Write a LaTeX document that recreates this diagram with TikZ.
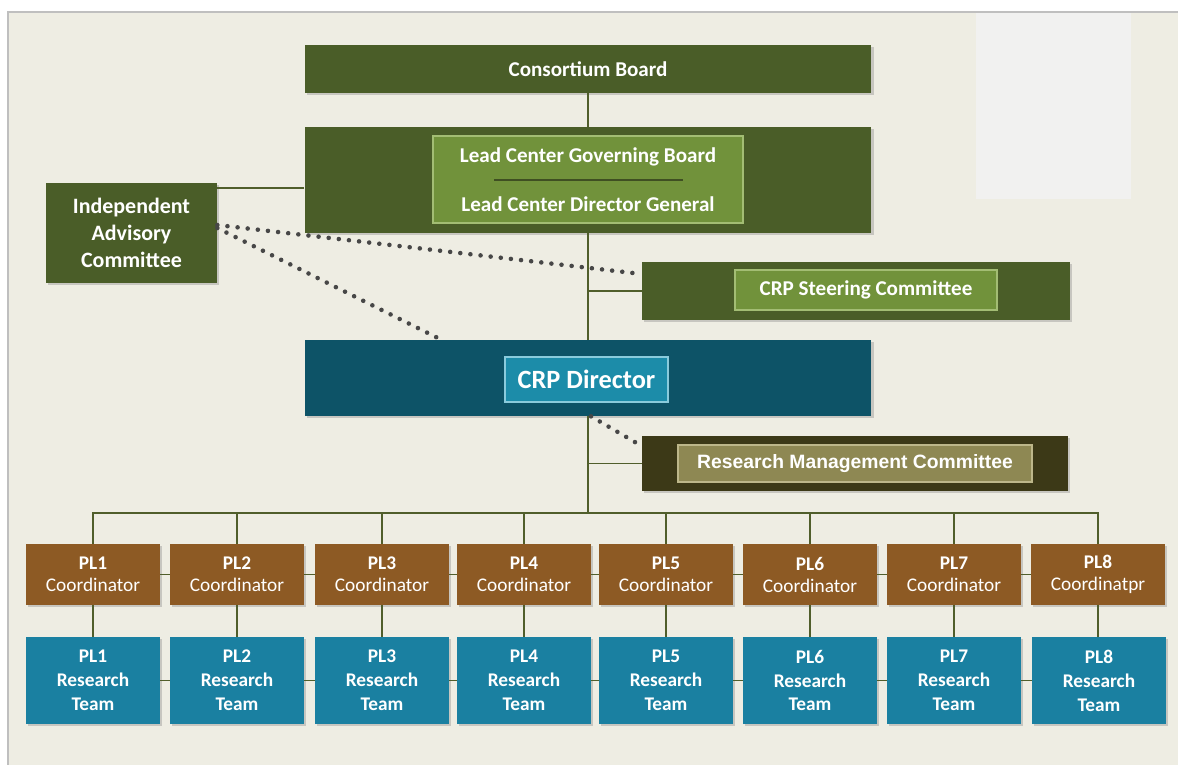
\documentclass[tikz,border=0pt]{standalone}
\usepackage{fontspec}
\setmainfont{Carlito}
\newfontfamily\rmcfont{Liberation Sans}
\usepackage{tikz}
\usetikzlibrary{shadows}

\definecolor{boardgreen}{HTML}{4A5D28}
\definecolor{leafgreen}{HTML}{71923B}
\definecolor{leafedge}{HTML}{A3BD74}
\definecolor{crpteal}{HTML}{0D5367}
\definecolor{crplight}{HTML}{1C8CA9}
\definecolor{crpedge}{HTML}{8ACBDC}
\definecolor{rmcdark}{HTML}{3C3917}
\definecolor{rmclight}{HTML}{8E8853}
\definecolor{rmcedge}{HTML}{BDB78A}
\definecolor{plbrown}{HTML}{8D5A24}
\definecolor{plteal}{HTML}{1A80A1}
\definecolor{linkolive}{HTML}{505E2B}
\definecolor{paper}{HTML}{EEEDE3}
\definecolor{blankpanel}{HTML}{F1F1F0}

\tikzset{
  orgbox/.style={rectangle, inner sep=0pt, align=center, text=white, drop shadow={shadow xshift=1.2pt, shadow yshift=-1.2pt, opacity=0.35}},
  darkbox/.style={orgbox, fill=boardgreen, minimum width=11.34cm},
  leafbox/.style={rectangle, inner sep=0pt, align=center, text=white, fill=leafgreen, draw=leafedge, line width=0.8pt, font=\fontsize{12}{14}\selectfont\bfseries},
  coordbox/.style={orgbox, fill=plbrown, minimum width=2.68cm, minimum height=1.22cm, font=\fontsize{11}{12.5}\selectfont},
  teambox/.style={orgbox, fill=plteal, minimum width=2.68cm, minimum height=1.74cm, font=\fontsize{11}{13.6}\selectfont\bfseries},
  link/.style={draw=linkolive, line width=1.1pt},
  dotlink/.style={draw=black!72, line width=2.6pt, line cap=round, dash pattern=on 0pt off 5.8pt}
}

\begin{document}
\begin{tikzpicture}[x=0.02cm, y=-0.02cm]
\useasboundingbox (0,0) rectangle (1178,765);
\fill[paper] (8,12) rectangle (1178,765);
\draw[black!25, line width=0.6pt] (8,765) -- (8,12) -- (1178,12);
\fill[blankpanel] (976,13) rectangle (1131,199);

\node[darkbox, minimum height=0.96cm, font=\fontsize{12}{14}\selectfont\bfseries] (cb) at (588,69) {Consortium Board};
\node[darkbox, minimum height=2.12cm] (lcb) at (588,180) {};
\node[leafbox, minimum width=6.2cm, minimum height=1.74cm] (lcin) at (588,179.5) {};
\node[text=white, font=\fontsize{12}{14}\selectfont\bfseries] (lcgb) at (588,157) {Lead Center Governing Board};
\node[text=white, font=\fontsize{12}{14}\selectfont\bfseries] (lcdg) at (588,204) {Lead Center Director General};
\draw[boardgreen!85!black, line width=1.2pt] (494,180) -- (683,180);

\node[orgbox, fill=boardgreen, minimum width=3.42cm, minimum height=2cm, font=\fontsize{12.5}{15.3}\selectfont\bfseries] (iac) at (131.5,233) {Independent\\Advisory\\Committee};

\node[orgbox, fill=boardgreen, minimum width=8.56cm, minimum height=1.16cm] (sc) at (856,291) {};
\node[leafbox, minimum width=5.24cm, minimum height=0.8cm] (scin) at (866,290) {CRP Steering Committee};

\node[orgbox, fill=crpteal, minimum width=11.34cm, minimum height=1.52cm] (crp) at (588,378) {};
\node[rectangle, inner sep=0pt, fill=crplight, draw=crpedge, line width=0.8pt, minimum width=3.26cm, minimum height=0.9cm, text=white, font=\fontsize{15}{18}\selectfont\bfseries] (crpin) at (586.5,379.5) {CRP Director};

\node[orgbox, fill=rmcdark, minimum width=8.52cm, minimum height=1.1cm] (rmc) at (855,463.5) {};
\node[rectangle, inner sep=0pt, fill=rmclight, draw=rmcedge, line width=0.8pt, minimum width=7.08cm, minimum height=0.74cm, text=white, font=\rmcfont\fontsize{11}{13}\selectfont\bfseries] (rmcin) at (855,463.5) {Research Management Committee};

\node[coordbox] (pc1) at (93,574.5) {\textbf{PL1}\\Coordinator};
\node[coordbox] (pc2) at (237,574.5) {\textbf{PL2}\\Coordinator};
\node[coordbox] (pc3) at (382,574.5) {\textbf{PL3}\\Coordinator};
\node[coordbox] (pc4) at (524,574.5) {\textbf{PL4}\\Coordinator};
\node[coordbox] (pc5) at (666,574.5) {\textbf{PL5}\\Coordinator};
\node[coordbox] (pc6) at (810,574.5) {\textbf{PL6}\\Coordinator};
\node[coordbox] (pc7) at (954,574.5) {\textbf{PL7}\\Coordinator};
\node[coordbox] (pc8) at (1098,574.5) {\textbf{PL8}\\Coordinatpr};

\node[teambox] (rt1) at (93,680.5) {PL1\\Research\\Team};
\node[teambox] (rt2) at (237,680.5) {PL2\\Research\\Team};
\node[teambox] (rt3) at (382,680.5) {PL3\\Research\\Team};
\node[teambox] (rt4) at (524,680.5) {PL4\\Research\\Team};
\node[teambox] (rt5) at (666,680.5) {PL5\\Research\\Team};
\node[teambox] (rt6) at (810,680.5) {PL6\\Research\\Team};
\node[teambox] (rt7) at (954,680.5) {PL7\\Research\\Team};
\node[teambox] (rt8) at (1099,680.5) {PL8\\Research\\Team};

\draw[link] (cb) -- (lcb);
\coordinate (iacin) at ([yshift=-0.16cm]lcb.west);
\draw[link] (iacin) -- (iacin -| iac.east);
\draw[link] (lcb) -- (crp);
\draw[link] (sc.west) -- (sc.west -| crp.north);
\draw[link] (rmc.west) -- (rmc.west -| crp.south);
\coordinate (bus) at (588,513);
\draw[link] (crp) -- (bus);
\draw[link] (pc1) -- (pc1 |- bus) -- (pc8 |- bus) -- (pc8);
\draw[link] (pc2) -- (pc2 |- bus);
\draw[link] (pc3) -- (pc3 |- bus);
\draw[link] (pc4) -- (pc4 |- bus);
\draw[link] (pc5) -- (pc5 |- bus);
\draw[link] (pc6) -- (pc6 |- bus);
\draw[link] (pc7) -- (pc7 |- bus);

\draw[link] (pc1) -- (pc2);
\draw[link] (pc2) -- (pc3);
\draw[link] (pc3) -- (pc4);
\draw[link] (pc4) -- (pc5);
\draw[link] (pc5) -- (pc6);
\draw[link] (pc6) -- (pc7);
\draw[link] (pc7) -- (pc8);
\draw[link] (pc1) -- (rt1);
\draw[link] (pc2) -- (rt2);
\draw[link] (pc3) -- (rt3);
\draw[link] (pc4) -- (rt4);
\draw[link] (pc5) -- (rt5);
\draw[link] (pc6) -- (rt6);
\draw[link] (pc7) -- (rt7);
\draw[link] (pc8) -- (pc8 |- rt8.north);
\draw[link] (rt1) -- (rt2);
\draw[link] (rt2) -- (rt3);
\draw[link] (rt3) -- (rt4);
\draw[link] (rt4) -- (rt5);
\draw[link] (rt5) -- (rt6);
\draw[link] (rt6) -- (rt7);
\draw[link] (rt7) -- (rt8);

\draw[dotlink] ([yshift=0.16cm]iac.east) -- ([yshift=0.34cm]sc.west);
\draw[dotlink] ([yshift=0.1cm]iac.east) -- ([xshift=2.74cm]crp.north west);
\draw[dotlink] ([xshift=0.06cm]crp.south) -- ([yshift=0.35cm]rmc.west);
\end{tikzpicture}
\end{document}
